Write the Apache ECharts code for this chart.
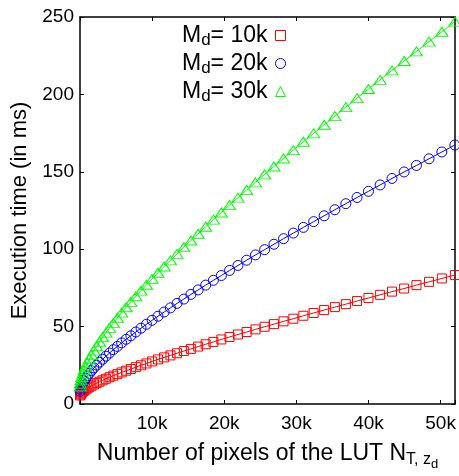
<!DOCTYPE html>
<html>
<head>
<meta charset="utf-8">
<script src="https://cdn.jsdelivr.net/npm/echarts@6/dist/echarts.min.js"></script>
<style>html,body{margin:0;padding:0;background:#fff;}#c{width:459px;height:476px;}</style>
</head>
<body>
<div id="c"></div>
<script>
// LUT pixel counts (x)
var lutPixels = [16,64,144,256,400,576,784,1024,1296,1600,1936,2304,2704,3136,3600,4096,4624,5184,5776,6400,7056,7744,8464,9216,10000,10816,11664,12544,13456,14400,15376,16384,17424,18496,19600,20736,21904,23104,24336,25600,26896,28224,29584,30976,32400,33856,35344,36864,38416,40000,41616,43264,44944,46656,48400,50176,51984];
// Execution times (ms)
var timeMd10k = [5.5,6.1,6.7,7.3,8.0,8.7,9.4,10.2,10.9,11.8,12.6,13.5,14.4,15.3,16.3,17.3,18.3,19.3,20.4,21.5,22.6,23.8,25.0,26.2,27.5,28.8,30.1,31.4,32.8,34.2,35.6,37.1,38.6,40.1,41.7,43.3,44.9,46.5,48.2,49.9,51.6,53.4,55.1,57.0,58.8,60.7,62.6,64.5,66.5,68.5,70.5,72.6,74.6,76.8,78.9,81.1,83.3];
var timeMd20k = [8.2,9.5,10.8,12.1,13.5,15.0,16.5,18.1,19.8,21.5,23.3,25.1,27.0,28.9,30.9,32.9,35.1,37.2,39.5,41.8,44.1,46.5,49.0,51.5,54.1,56.7,59.4,62.1,65.0,67.8,70.8,73.7,76.8,79.9,83.0,86.3,89.5,92.9,96.3,99.7,103.2,106.8,110.4,114.1,117.8,121.6,125.5,129.4,133.4,137.4,141.5,145.7,149.9,154.1,158.4,162.8,167.3];
var timeMd30k = [11.3,13.2,15.3,17.4,19.6,21.9,24.2,26.7,29.2,31.8,34.5,37.3,40.2,43.1,46.1,49.2,52.4,55.7,59.0,62.5,66.0,69.6,73.2,77.0,80.8,84.8,88.8,92.8,97.0,101.3,105.6,110.0,114.5,119.1,123.7,128.5,133.3,138.2,143.2,148.3,153.4,158.6,164.0,169.4,174.8,180.4,186.0,191.8,197.6,203.5,209.4,215.5,221.6,227.8,234.1,240.5,247.0];
var seriesNames = ['M_d= 10k','M_d= 20k','M_d= 30k'];
var xTickLabels = ['10k','20k','30k','40k','50k'];
var yTickLabels = ['0','50','100','150','200','250'];

var colors = ['#ff0000','#0000ff','#00ff00'];
var symbols = ['rect','circle','triangle'];
var sizes = [9, 10, [12,9]];
var datasets = [timeMd10k, timeMd20k, timeMd30k];

var FONT = 'Liberation Sans, Arial, Helvetica, sans-serif';

function pairs(xs, ys){ var out=[]; for (var i=0;i<xs.length;i++) out.push([xs[i], ys[i]]); return out; }

var series = datasets.map(function(d, i){
  return {
    name: seriesNames[i],
    type: 'line',
    xAxisIndex: 0, yAxisIndex: 0,
    data: pairs(lutPixels, d),
    symbol: symbols[i],
    symbolSize: sizes[i],
    showAllSymbol: true,
    clip: false,
    lineStyle: {color: colors[i], width: 1},
    itemStyle: {color: 'rgba(255,255,255,0)', borderColor: colors[i], borderWidth: 1},
    emphasis: {disabled: true},
    animation: false
  };
});

var chart = echarts.init(document.getElementById('c'), null, {renderer: 'canvas'});
var axisLineStyle = {color: '#000', width: 1.5};
chart.setOption({
  animation: false,
  backgroundColor: '#fff',
  grid: {left: 80, right: 4, top: 17, bottom: 68, containLabel: false},
  legend: {
    orient: 'vertical',
    left: 177, top: 19,
    align: 'right',
    itemGap: 3,
    itemWidth: 10, itemHeight: 10,
    selectedMode: false,
    data: seriesNames.map(function(n, i){
      return {name: n, icon: symbols[i],
        itemStyle: {color: 'rgba(255,255,255,0)', borderColor: colors[i], borderWidth: 1}};
    }),
    formatter: function(name){
      var p = name.split('_');
      var rest = p[1].substring(1);
      return '{m|' + p[0] + '}{s|' + p[1].charAt(0) + '}{e|' + rest + '}';
    },
    textStyle: {
      fontFamily: FONT, color: '#000',
      rich: {
        m: {fontSize: 23, fontFamily: FONT, color: '#000', lineHeight: 24},
        e: {fontSize: 23, fontFamily: FONT, color: '#000', lineHeight: 24, padding: [0,3,0,0]},
        s: {fontSize: 17, fontFamily: FONT, color: '#000', padding: [10,0,0,0]}
      }
    }
  },
  xAxis: [{
    type: 'value', min: 0, max: 52000, interval: 10000,
    position: 'bottom',
    name: '{a|Number of pixels of the LUT N}{s|T, z}{ss|d}',
    nameLocation: 'middle', nameGap: 32,
    nameTextStyle: {
      rich: {
        a: {fontSize: 23, fontFamily: FONT, color: '#000'},
        s: {fontSize: 16, fontFamily: FONT, color: '#000', padding: [12,0,0,0]},
        ss: {fontSize: 13, fontFamily: FONT, color: '#000', padding: [22,0,0,0]}
      }
    },
    axisLine: {show: true, onZero: false, lineStyle: axisLineStyle},
    axisTick: {show: true, inside: true, length: 4, lineStyle: {color: '#000', width: 1}},
    axisLabel: {
      fontSize: 19, fontFamily: FONT, color: '#000', margin: 10,
      formatter: function(v){ var i = Math.round(v/10000) - 1; return (v % 10000 === 0 && i >= 0 && i < xTickLabels.length) ? xTickLabels[i] : ''; }
    },
    splitLine: {show: false}
  },{
    type: 'value', min: 0, max: 52000, interval: 10000,
    position: 'top',
    axisLine: {show: true, onZero: false, lineStyle: axisLineStyle},
    axisTick: {show: true, inside: true, length: 4, lineStyle: {color: '#000', width: 1}},
    axisLabel: {show: false},
    splitLine: {show: false}
  }],
  yAxis: [{
    type: 'value', min: 0, max: 250, interval: 50,
    position: 'left',
    name: 'Execution time (in ms)',
    nameLocation: 'middle', nameGap: 46,
    nameTextStyle: {fontSize: 22, fontFamily: FONT, color: '#000'},
    axisLine: {show: true, onZero: false, lineStyle: axisLineStyle},
    axisTick: {show: true, inside: true, length: 4, lineStyle: {color: '#000', width: 1}},
    axisLabel: {
      fontSize: 19, fontFamily: FONT, color: '#000', margin: 6,
      formatter: function(v){ var i = Math.round(v/50); return yTickLabels[i] || ''; }
    },
    splitLine: {show: false}
  },{
    type: 'value', min: 0, max: 250, interval: 50,
    position: 'right',
    axisLine: {show: true, onZero: false, lineStyle: axisLineStyle},
    axisTick: {show: true, inside: true, length: 4, lineStyle: {color: '#000', width: 1}},
    axisLabel: {show: false},
    splitLine: {show: false}
  }],
  series: series
});
</script>
</body>
</html>
